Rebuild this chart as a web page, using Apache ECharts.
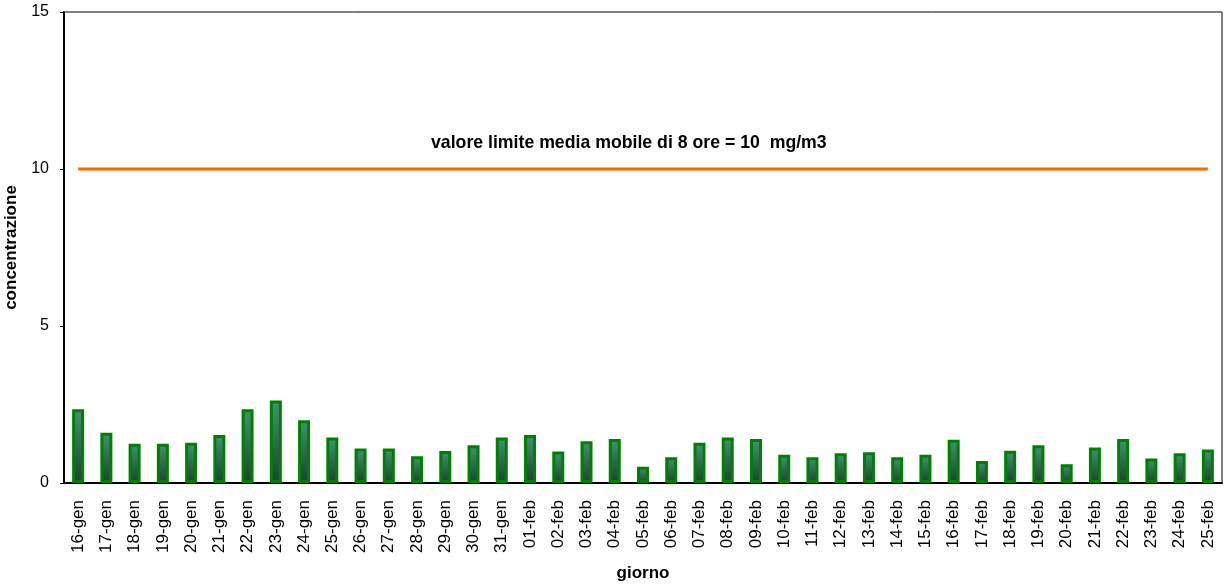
<!DOCTYPE html>
<html>
<head>
<meta charset="utf-8">
<script src="https://cdn.jsdelivr.net/npm/echarts@6/dist/echarts.min.js"></script>
<style>
  html,body{margin:0;padding:0;background:#fff;}
  #chart{width:1226px;height:584px;}
</style>
</head>
<body>
<div id="chart"></div>
<script>
// giorni
const days = ['16-gen','17-gen','18-gen','19-gen','20-gen','21-gen','22-gen','23-gen','24-gen','25-gen',
  '26-gen','27-gen','28-gen','29-gen','30-gen','31-gen','01-feb','02-feb','03-feb','04-feb',
  '05-feb','06-feb','07-feb','08-feb','09-feb','10-feb','11-feb','12-feb','13-feb','14-feb',
  '15-feb','16-feb','17-feb','18-feb','19-feb','20-feb','21-feb','22-feb','23-feb','24-feb','25-feb']
// concentrazione CO (mg/m3)
const conc = [2.35,1.6,1.25,1.25,1.28,1.53,2.35,2.63,2.0,1.45,
  1.1,1.1,0.85,1.02,1.2,1.45,1.53,1.0,1.33,1.4,
  0.52,0.82,1.28,1.45,1.4,0.9,0.82,0.95,0.98,0.82,
  0.9,1.38,0.7,1.03,1.2,0.6,1.13,1.4,0.78,0.95,1.07]
const limitValue = 10
const yTicks = [0,5,10,15]

var myChart = echarts.init(document.getElementById('chart'))
const font = 'Liberation Sans, Arial, sans-serif'

myChart.setOption({
  animation:false,
  title:{
    text:'valore limite media mobile di 8 ore = ' + limitValue + '  mg/m3',
    left:426,
    top:129,
    textStyle:{fontFamily:font,fontSize:17.7,fontWeight:'bold',color:'#000'}
  },
  grid:{
    left:64, right:4, top:12, bottom:101,
    outerBoundsMode:'none',
    containLabel:false,
    show:true, borderColor:'#000', borderWidth:1
  },
  xAxis:{
    type:'category',
    data:days,
    name:'giorno',
    nameLocation:'middle',
    nameGap:82,
    nameTextStyle:{fontFamily:font,fontSize:17,fontWeight:'bold',color:'#000'},
    axisLine:{lineStyle:{color:'#000',width:2}},
    axisTick:{length:5,lineStyle:{color:'#000'}},
    axisLabel:{rotate:90,interval:0,margin:17,fontFamily:font,fontSize:17,color:'#000'}
  },
  yAxis:{
    type:'value',
    min:yTicks[0],
    max:yTicks[yTicks.length-1],
    interval:5,
    name:'concentrazione',
    nameLocation:'middle',
    nameGap:37,
    nameTextStyle:{fontFamily:font,fontSize:17,fontWeight:'bold',color:'#000'},
    axisLine:{show:true,lineStyle:{color:'#000',width:2}},
    axisTick:{show:true,length:4,lineStyle:{color:'#000'}},
    axisLabel:{margin:15,fontFamily:font,fontSize:16,color:'#000'},
    splitLine:{show:false}
  },
  series:[
    {
      type:'bar',
      data:conc,
      barWidth:12,
      itemStyle:{
        borderColor:'#008000',
        borderWidth:3,
        color:new echarts.graphic.LinearGradient(0,0,0,1,[
          {offset:0,color:'#3f9473'},
          {offset:1,color:'#1f3f33'}
        ])
      }
    },
    {
      type:'line',
      data:days.map(()=>limitValue),
      symbol:'none',
      lineStyle:{color:'#ff6600',width:3}
    }
  ]
})
</script>
</body>
</html>
